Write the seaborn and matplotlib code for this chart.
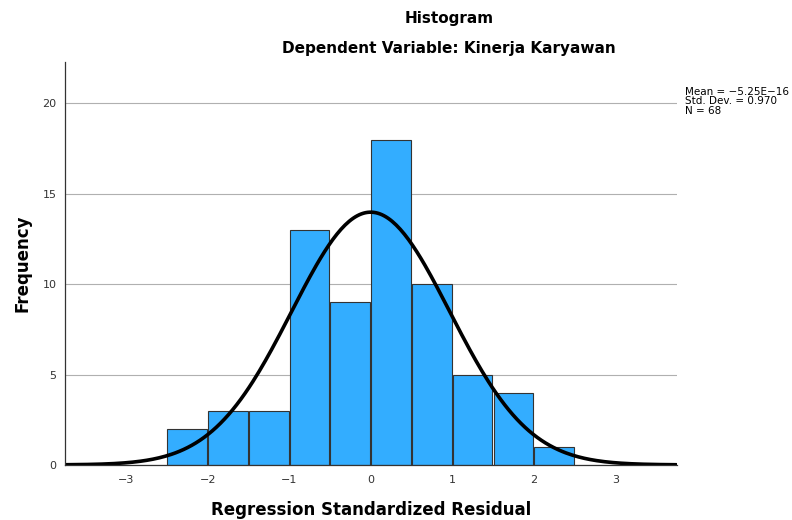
import numpy as np
import pandas as pd
import seaborn as sns
import matplotlib.pyplot as plt

# residual histogram (bin width 0.5)
bin_edges = [-2.5, -2.0, -1.5, -1.0, -0.5, 0.0, 0.5, 1.0, 1.5, 2.0, 2.5]
counts = [2, 3, 3, 13, 9, 18, 10, 5, 4, 1]
mean_val = -5.25e-16
std_val = 0.970
n_obs = 68
xticks = [-3, -2, -1, 0, 1, 2, 3]
yticks = [0, 5, 10, 15, 20]

centers = [(a + b) / 2 for a, b in zip(bin_edges[:-1], bin_edges[1:])]
df = pd.DataFrame({'resid': centers, 'count': counts})

sns.set_style('white')
plt.rcParams['font.family'] = ['DejaVu Sans']

fig = plt.figure(figsize=(7.92, 5.2), dpi=100)
ax = fig.add_axes([0.082, 0.106, 0.773, 0.775])

ax.set_axisbelow(True)
ax.grid(axis='y', color='#b0b0b0', linewidth=0.8)

sns.histplot(data=df, x='resid', weights='count', bins=bin_edges, shrink=0.97,
             color='#33adff', alpha=1, edgecolor='#333333', linewidth=0.8, ax=ax)

# normal curve scaled to counts
xs = np.linspace(-3.75, 3.75, 300)
bw = bin_edges[1] - bin_edges[0]
ys = n_obs * bw / (std_val * np.sqrt(2 * np.pi)) * np.exp(-0.5 * ((xs - mean_val) / std_val) ** 2)
sns.lineplot(x=xs, y=ys, color='black', linewidth=2.6, ax=ax)

ax.set_xlim(-3.75, 3.76)
ax.set_ylim(0, 22.3)
ax.set_xticks(xticks)
ax.set_xticklabels([str(t).replace('-', '\u2212') for t in xticks])
ax.set_yticks(yticks)
ax.tick_params(axis='both', length=0, labelsize=8, colors='#333333', pad=6)
ax.tick_params(axis='x', pad=7)

for s in ['top', 'right']:
    ax.spines[s].set_visible(False)
for s in ['left', 'bottom']:
    ax.spines[s].set_color('#333333')
    ax.spines[s].set_linewidth(0.9)

ax.set_xlabel('Regression Standardized Residual', fontsize=12, fontweight='bold',
              labelpad=12, color='black')
ax.set_ylabel('Frequency', fontsize=12, fontweight='bold', labelpad=8, color='black')

fig.text(0.567, 0.965, 'Histogram', ha='center', va='center', fontsize=11,
         fontweight='bold', color='black')
fig.text(0.567, 0.907, 'Dependent Variable: Kinerja Karyawan', ha='center', va='center',
         fontsize=11, fontweight='bold', color='black')

fig.text(0.865, 0.805, 'Mean = \u22125.25E\u221216\nStd. Dev. = 0.970\nN = 68',
         ha='left', va='center', fontsize=7.5, linespacing=0.95, color='black')

fig.savefig('out.png', dpi=100)
